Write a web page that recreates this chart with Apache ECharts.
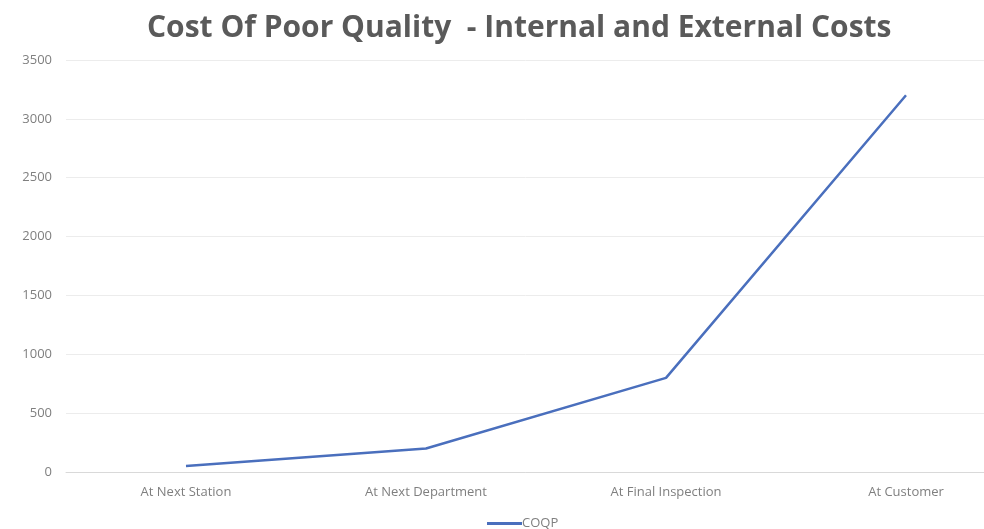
<!DOCTYPE html>
<html>
<head>
<meta charset="utf-8">
<script src="https://cdn.jsdelivr.net/npm/echarts@6/dist/echarts.min.js"></script>
<style>
html,body{margin:0;padding:0;background:#fff;overflow:hidden;}
#chart{width:984px;height:529px;}
</style>
</head>
<body>
<div id="chart"></div>
<script>
const titleText = 'Cost Of Poor Quality  - Internal and External Costs';
const categories = ['At Next Station', 'At Next Department', 'At Final Inspection', 'At Customer'];
const seriesName = 'COQP';
const coqpValues = [50, 200, 800, 3200];
const yTicks = { min: 0, max: 3500, interval: 500 };

const chart = echarts.init(document.getElementById('chart'));
chart.setOption({
  backgroundColor: '#ffffff',
  animation: false,
  title: {
    text: titleText,
    left: 142,
    top: 8,
    textStyle: { fontFamily: 'Open Sans', fontWeight: 'bold', fontSize: 30, color: '#5a5a5a' }
  },
  legend: {
    data: [seriesName],
    top: 512,
    left: 482,
    itemWidth: 35,
    itemHeight: 3,
    itemGap: 0,
    icon: 'rect',
    textStyle: { fontFamily: 'Open Sans', fontSize: 13, color: '#7f7f7f', padding: [0, 0, 0, -5] }
  },
  grid: { left: 66, top: 60, width: 960, height: 412, outerBoundsMode: 'none', containLabel: false },
  xAxis: {
    type: 'category',
    data: categories,
    boundaryGap: true,
    axisLine: { lineStyle: { color: '#d9d9d9', width: 1 } },
    axisTick: { show: false },
    axisLabel: { fontFamily: 'Open Sans', fontSize: 13, color: '#7f7f7f', margin: 14 }
  },
  yAxis: {
    type: 'value',
    min: yTicks.min,
    max: yTicks.max,
    interval: yTicks.interval,
    axisLine: { show: false },
    axisTick: { show: false },
    axisLabel: { fontFamily: 'Open Sans', fontSize: 13, color: '#7f7f7f', margin: 14, formatter: v => String(v) },
    splitLine: { lineStyle: { color: '#ececec', width: 1 } }
  },
  series: [{
    name: seriesName,
    type: 'line',
    data: coqpValues,
    symbol: 'none',
    lineStyle: { color: '#4a6fbd', width: 2.5 },
    itemStyle: { color: '#4a6fbd' }
  }]
});
</script>
</body>
</html>
